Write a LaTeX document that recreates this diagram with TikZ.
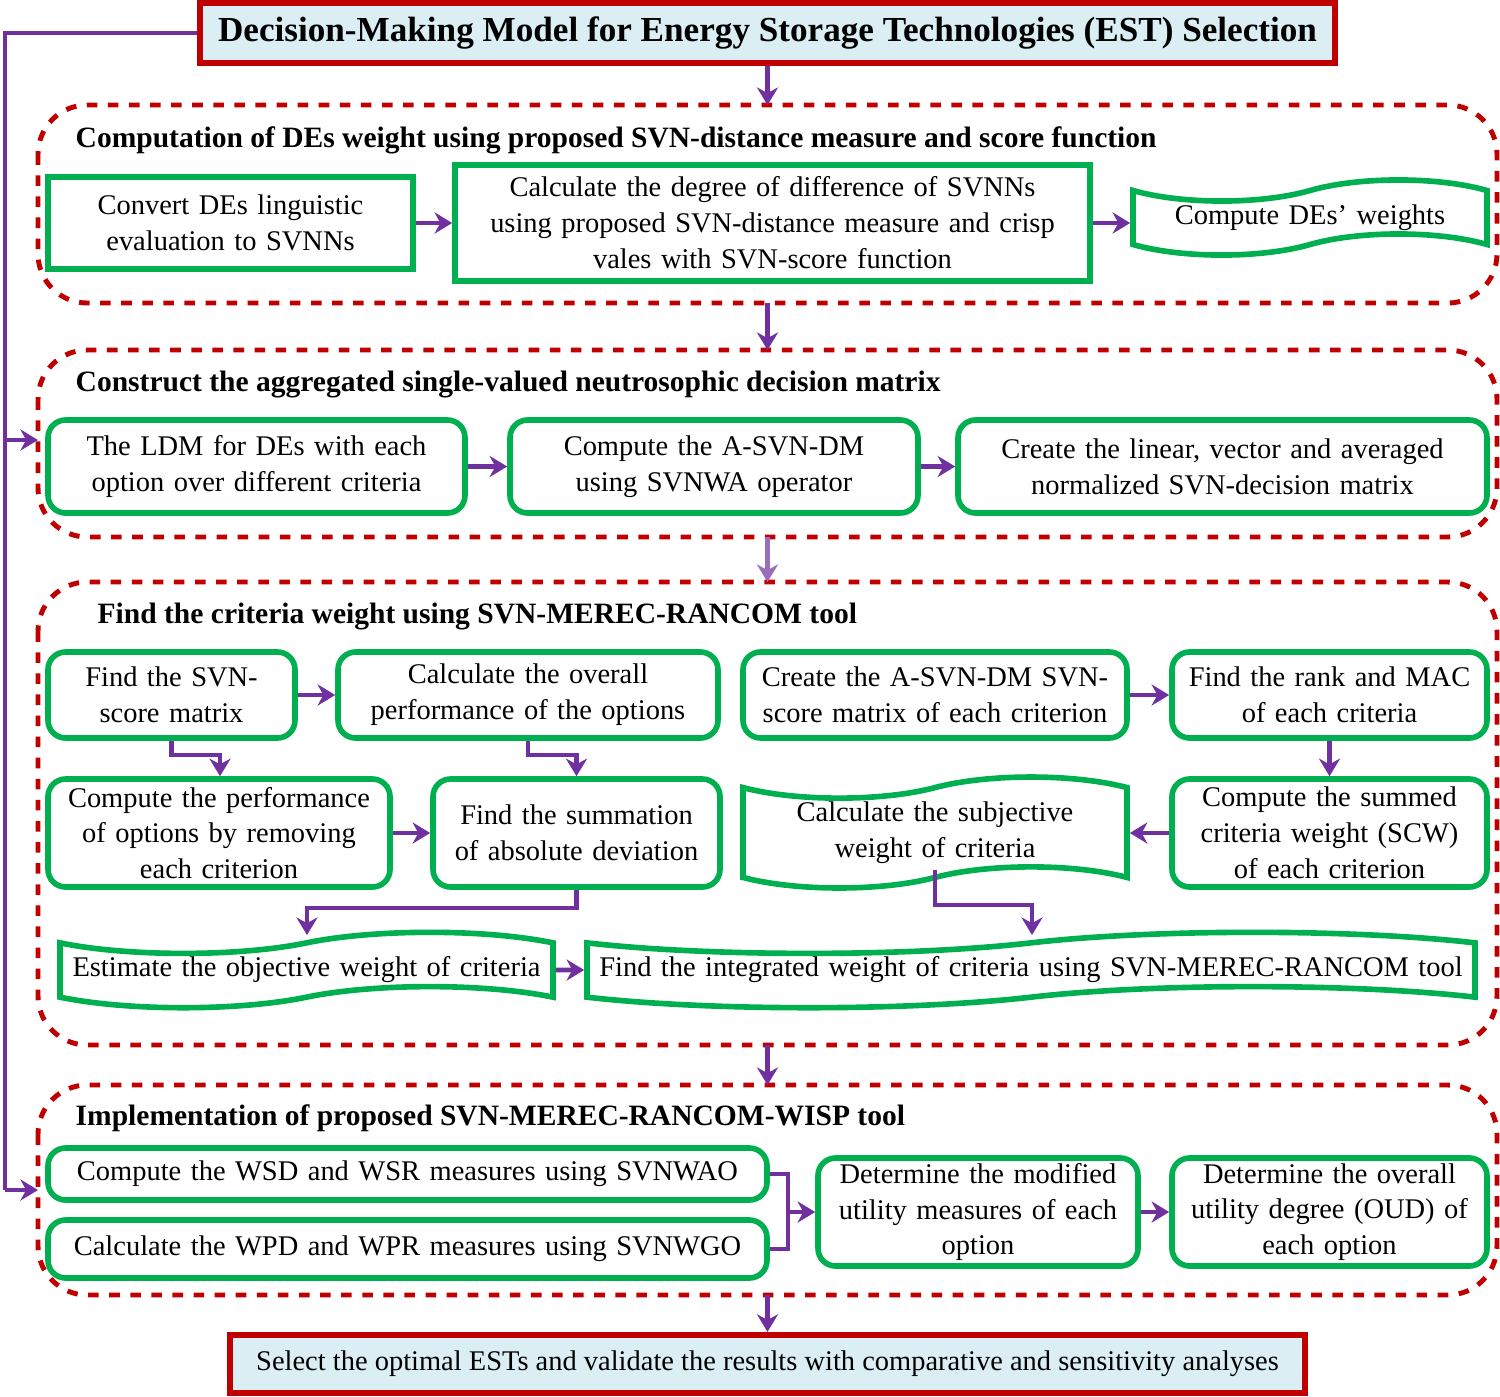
\documentclass[tikz,border=0pt]{standalone}
\usepackage{fontspec}
\setmainfont{Liberation Serif}
\usetikzlibrary{shapes.symbols,arrows.meta}
\definecolor{boxgreen}{RGB}{0,176,80}
\definecolor{flowpurple}{RGB}{112,48,160}
\definecolor{panelred}{RGB}{192,0,0}
\definecolor{headblue}{RGB}{218,238,243}
\hyphenpenalty=10000
\exhyphenpenalty=10000
\tikzset{
	box/.style={draw=boxgreen, line width=1.6pt, rounded corners=5pt, align=center, inner sep=1pt, font=\fontsize{8.1}{10.2}\selectfont},
	tapebox/.style={draw=boxgreen, line width=1.6pt, tape, tape bend height=6pt, align=center, inner sep=1pt, font=\fontsize{8.1}{10.2}\selectfont},
	headbox/.style={draw=panelred, line width=1.8pt, fill=headblue, align=center, inner sep=1pt},
	panel/.style={draw=panelred, line width=1.4pt, dashed, rounded corners=14pt},
	paneltitle/.style={anchor=west, inner sep=0pt, font=\fontsize{8.4}{10}\selectfont\bfseries},
	flow/.style={draw=flowpurple, line width=1.3pt, -{Stealth[length=5pt,width=6pt]}}
}
\begin{document}
\begin{tikzpicture}
	\useasboundingbox (0,0) rectangle (15,-13.96);
	% header and footer
	\node[headbox, minimum width=11.35cm, minimum height=0.6cm, font=\fontsize{10}{12}\selectfont\bfseries] (title) at (7.675,-0.33) {Decision-Making Model for Energy Storage Technologies (EST) Selection};
	\node[headbox, minimum width=10.75cm, minimum height=0.58cm, font=\fontsize{8.1}{10}\selectfont] (final) at (7.675,-13.64) {Select the optimal ESTs and validate the results with comparative and sensitivity analyses};
	% dashed panels
	\draw[panel] (0.38,-1.05) rectangle (14.97,-3.03);
	\draw[panel] (0.38,-3.50) rectangle (14.97,-5.37);
	\draw[panel] (0.38,-5.82) rectangle (14.97,-10.45);
	\draw[panel] (0.38,-10.85) rectangle (14.97,-12.95);
	\coordinate (p1top) at (7.675,-1.05);
	\coordinate (p1bot) at (7.675,-3.03);
	\coordinate (p2top) at (7.675,-3.50);
	\coordinate (p2bot) at (7.675,-5.37);
	\coordinate (p3top) at (7.675,-5.82);
	\coordinate (p3bot) at (7.675,-10.45);
	\coordinate (p4top) at (7.675,-10.85);
	\coordinate (p4bot) at (7.675,-12.95);
	\coordinate (p2left) at (0.38,-4.40);
	\coordinate (p4left) at (0.38,-11.90);
	\node[paneltitle] (t1) at (0.75,-1.40) {Computation of DEs weight using proposed SVN-distance measure and score function};
	\node[paneltitle] (t2) at (0.75,-3.85) {Construct the aggregated single-valued neutrosophic decision matrix};
	\node[paneltitle] (t3) at (0.97,-6.17) {Find the criteria weight using SVN-MEREC-RANCOM tool};
	\node[paneltitle] (t4) at (0.75,-11.18) {Implementation of proposed SVN-MEREC-RANCOM-WISP tool};
	% panel 1
	\node[box, rounded corners=0pt, minimum width=3.65cm, minimum height=0.92cm, text width=3.4cm] (a1) at (2.305,-2.23) {Convert DEs linguistic evaluation to SVNNs};
	\node[box, rounded corners=0pt, minimum width=6.35cm, minimum height=1.16cm, text width=6.2cm] (a2) at (7.725,-2.23) {Calculate the degree of difference of SVNNs\\using proposed SVN-distance measure and crisp\\vales with SVN-score function};
	\node[tapebox, minimum width=3.54cm, minimum height=0.5cm, text width=3.3cm] (a3) at (13.10,-2.175) {Compute DEs’ weights};
	% panel 2
	\node[box, minimum width=4.17cm, minimum height=0.93cm, text width=3.9cm] (b1) at (2.565,-4.665) {The LDM for DEs with each option over different criteria};
	\node[box, minimum width=4.08cm, minimum height=0.93cm, text width=3.8cm] (b2) at (7.14,-4.665) {Compute the A-SVN-DM using SVNWA operator};
	\node[box, minimum width=5.29cm, minimum height=0.93cm, text width=5.1cm] (b3) at (12.225,-4.665) {Create the linear, vector and averaged normalized SVN-decision matrix};
	% panel 3
	\node[box, minimum width=2.47cm, minimum height=0.86cm, text width=2.2cm] (c1) at (1.715,-6.95) {Find the SVN-\\score matrix};
	\node[box, minimum width=3.8cm, minimum height=0.86cm, text width=3.6cm] (c2) at (5.28,-6.95) {Calculate the overall performance of the options};
	\node[box, minimum width=3.84cm, minimum height=0.86cm, text width=3.7cm] (c3) at (9.35,-6.95) {Create the A-SVN-DM SVN-\\score matrix of each criterion};
	\node[box, minimum width=3.15cm, minimum height=0.86cm, text width=3.05cm] (c4) at (13.295,-6.95) {Find the rank and MAC\\of each criteria};
	\node[box, minimum width=3.42cm, minimum height=1.08cm, text width=3.3cm] (d1) at (2.19,-8.33) {Compute the performance of options by removing each criterion};
	\node[box, minimum width=2.87cm, minimum height=1.08cm, text width=2.75cm] (d2) at (5.765,-8.33) {Find the summation of absolute deviation};
	\node[tapebox, minimum width=3.84cm, minimum height=0.75cm, text width=3.3cm] (d3) at (9.35,-8.325) {Calculate the subjective weight of criteria};
	\node[box, minimum width=3.15cm, minimum height=1.08cm, text width=2.9cm] (d4) at (13.295,-8.33) {Compute the summed criteria weight (SCW) of each criterion};
	\node[tapebox, minimum width=4.93cm, minimum height=0.5cm, text width=4.8cm] (e1) at (3.065,-9.70) {Estimate the objective weight of criteria};
	\node[tapebox, minimum width=8.88cm, minimum height=0.5cm, text width=8.7cm] (e2) at (10.31,-9.70) {Find the integrated weight of criteria using SVN-MEREC-RANCOM tool};
	% panel 4
	\node[box, minimum width=7.19cm, minimum height=0.52cm, text width=7.1cm] (f1) at (4.075,-11.74) {Compute the WSD and WSR measures using SVNWAO};
	\node[box, minimum width=7.19cm, minimum height=0.58cm, text width=7.1cm] (f2) at (4.075,-12.49) {Calculate the WPD and WPR measures using SVNWGO};
	\node[box, minimum width=3.2cm, minimum height=1.08cm, text width=3.1cm] (g1) at (9.78,-12.12) {Determine the modified\\utility measures of each\\option};
	\node[box, minimum width=3.15cm, minimum height=1.08cm, text width=3.05cm] (g2) at (13.295,-12.12) {Determine the overall\\utility degree (OUD) of\\each option};
	% flow between panels
	\draw[flow] (title) -- (p1top);
	\draw[flow] (p1bot) -- (p2top);
	\draw[flow, draw=flowpurple!70] (p2bot) -- (p3top);
	\draw[flow] (p3bot) -- (p4top);
	\draw[flow] (p4bot) -- (final);
	\draw[flow, -] (title.west) -- (0.05,-0.33) -- (0.05,-11.90);
	\draw[flow] (0.05,-4.40) -- (p2left);
	\draw[flow] (0.05,-11.90) -- (p4left);
	% flow inside panels
	\draw[flow] (a1) -- (a2);
	\draw[flow] (a2) -- (a3.west |- a2);
	\draw[flow] (b1) -- (b2);
	\draw[flow] (b2) -- (b3);
	\draw[flow] (c1) -- (c2);
	\draw[flow] (c3) -- (c4);
	\draw[flow] (c1.south) -- ++(0,-0.14) -| (d1.north -| 2.2,0);
	\draw[flow] (c2.south) -- ++(0,-0.14) -| (d2.north);
	\draw[flow] (c4) -- (d4);
	\draw[flow] (d4) -- (d3.east |- d4);
	\draw[flow] (d1) -- (d2);
	\draw[flow] (d2.south) -- ++(0,-0.18) -| (3.07,-9.35);
	\draw[flow] (9.35,-8.70) -- (9.35,-9.05) -| (10.32,-9.35);
	\draw[flow] (e1) -- (e2);
	\draw[flow, -] (f1.east) -- (7.88,-11.74) -- (7.88,-12.49) -- (f2.east);
	\draw[flow] (7.88,-12.12) -- (g1);
	\draw[flow] (g1) -- (g2);
\end{tikzpicture}
\end{document}
